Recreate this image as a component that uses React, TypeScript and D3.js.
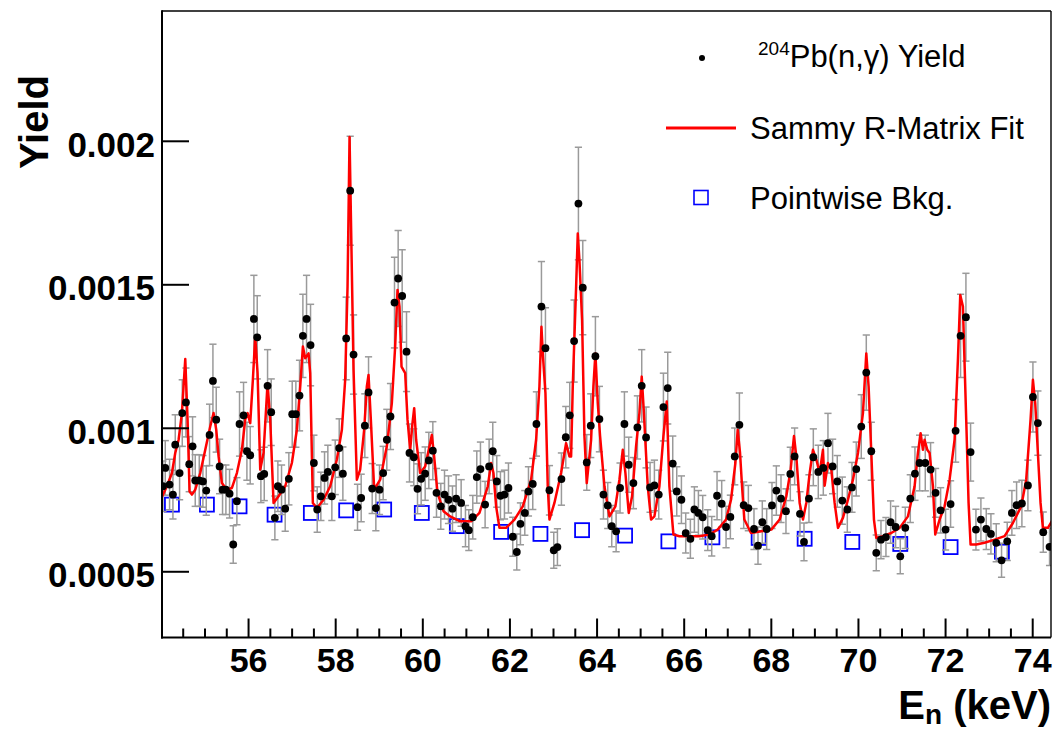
import React from "react";
import * as d3 from "d3";

// ---------- data ----------
const energy = [
  54.034, 54.088, 54.187, 54.264, 54.317, 54.417, 54.478, 54.562, 54.638, 54.715,
  54.776, 54.868, 54.952, 55.029, 55.105, 55.182, 55.258, 55.335, 55.403, 55.48,
  55.564, 55.648, 55.732, 55.793, 55.885, 55.962, 56.038, 56.122, 56.199, 56.283,
  56.36, 56.436, 56.52, 56.604, 56.673, 56.757, 56.841, 56.925, 57.002, 57.086,
  57.17, 57.247, 57.331, 57.423, 57.499, 57.576, 57.66, 57.744, 57.82, 57.912,
  57.989, 58.081, 58.165, 58.241, 58.333, 58.41, 58.501, 58.585, 58.669, 58.754,
  58.838, 58.922, 59.006, 59.09, 59.174, 59.258, 59.35, 59.434, 59.526, 59.626,
  59.694, 59.793, 59.878, 59.962, 60.054, 60.138, 60.23, 60.314, 60.413, 60.498,
  60.59, 60.681, 60.765,
  60.88, 60.979, 61.056, 61.147, 61.239, 61.323, 61.43, 61.522, 61.606, 61.698,
  61.782, 61.874, 61.966, 62.065, 62.157, 62.241, 62.341, 62.425, 62.524, 62.608,
  62.723, 62.815, 62.907, 63.006, 63.09, 63.182, 63.282, 63.373, 63.473, 63.572,
  63.672, 63.763, 63.855, 63.962, 64.054, 64.146, 64.245, 64.337, 64.437, 64.528,
  64.628, 64.727, 64.834, 64.926, 65.025, 65.125, 65.217, 65.316, 65.416, 65.523,
  65.622, 65.737, 65.829, 65.936, 66.035, 66.142, 66.234, 66.326, 66.425, 66.54,
  66.632, 66.754, 66.861, 66.961, 67.06, 67.16, 67.267, 67.366, 67.473,
  67.602, 67.694, 67.793, 67.893, 68.015, 68.115, 68.222, 68.336, 68.436, 68.535,
  68.658, 68.75, 68.864, 68.964, 69.078, 69.193, 69.3, 69.407, 69.514, 69.629,
  69.744, 69.851, 69.95, 70.065, 70.18, 70.295, 70.409, 70.517, 70.631, 70.738,
  70.853, 70.96, 71.075, 71.19, 71.297, 71.404, 71.534, 71.656, 71.771, 71.886,
  72.0, 72.115, 72.23, 72.344, 72.467, 72.574, 72.697, 72.811, 72.934, 73.041,
  73.163, 73.285, 73.415, 73.522, 73.63, 73.752, 73.89, 74.005, 74.119, 74.242,
  74.387,
];

const yieldVals = [
  7.98e-4, 8.62e-4, 8.04e-4, 7.69e-4, 9.43e-4, 8.44e-4, 10.53e-4, 10.9e-4, 8.75e-4, 9.37e-4,
  8.18e-4, 8.18e-4, 8.15e-4, 7.83e-4, 9.77e-4, 11.65e-4, 10.3e-4, 8.67e-4, 7.86e-4, 7.86e-4,
  7.72e-4, 5.95e-4, 7.46e-4, 10.15e-4, 10.45e-4, 9.2e-4, 9.06e-4, 13.81e-4, 13.17e-4, 8.33e-4,
  8.41e-4, 11.48e-4, 10.56e-4, 6.88e-4, 7.98e-4, 7.86e-4, 7.2e-4, 8.24e-4, 10.49e-4, 10.49e-4,
  11.14e-4, 13.22e-4, 13.81e-4, 12.9e-4, 8.79e-4, 7.17e-4, 7.63e-4, 8.27e-4, 8.48e-4, 7.63e-4,
  8.64e-4, 9.31e-4, 8.42e-4, 13.13e-4, 18.28e-4, 12.57e-4, 7.25e-4, 7.57e-4, 10.09e-4, 11.25e-4,
  7.9e-4, 7.22e-4, 7.86e-4, 8.44e-4, 9.6e-4, 10.41e-4, 14.38e-4, 15.22e-4, 14.61e-4, 12.67e-4,
  9.14e-4, 8.99e-4, 7.89e-4, 8.24e-4, 8.42e-4, 8.88e-4, 9.22e-4, 7.75e-4, 7.28e-4, 7.69e-4,
  7.51e-4, 7.2e-4, 7.55e-4,
  7.4e-4, 6.59e-4, 6.45e-4, 6.9e-4, 8.3e-4, 8.58e-4, 7.34e-4, 8.67e-4, 9.2e-4, 8.15e-4,
  7.65e-4, 7.69e-4, 7.92e-4, 6.22e-4, 5.69e-4, 6.67e-4, 7.05e-4, 7.8e-4, 8.06e-4, 10.15e-4,
  14.24e-4, 12.79e-4, 7.84e-4, 5.75e-4, 5.86e-4, 8.23e-4, 9.69e-4, 10.45e-4, 13.04e-4, 17.83e-4,
  14.9e-4, 8.81e-4, 10.09e-4, 12.51e-4, 10.32e-4, 7.69e-4, 7.31e-4, 6.59e-4, 6.41e-4, 7.92e-4,
  10.15e-4, 8.73e-4, 8.09e-4, 10.03e-4, 11.48e-4, 9.68e-4, 7.94e-4, 8.01e-4, 7.69e-4, 10.74e-4,
  11.4e-4, 8.77e-4, 7.8e-4, 7.51e-4, 6.35e-4, 6.15e-4, 7.17e-4, 7.05e-4, 6.9e-4, 6.45e-4,
  6.24e-4, 7.65e-4, 7.37e-4, 6.56e-4, 6.91e-4, 9.02e-4, 10.12e-4, 7.32e-4, 7.22e-4,
  6.49e-4, 5.91e-4, 6.73e-4, 6.49e-4, 7.31e-4, 7.83e-4, 7.55e-4, 7.11e-4, 8.41e-4, 9.02e-4,
  7.02e-4, 6.04e-4, 7.55e-4, 8.99e-4, 8.48e-4, 8.62e-4, 9.48e-4, 8.67e-4, 8.15e-4, 7.48e-4,
  7.17e-4, 7.94e-4, 8.58e-4, 10.06e-4, 11.94e-4, 9.2e-4, 5.66e-4, 6.12e-4, 6.21e-4, 6.73e-4,
  6.56e-4, 5.54e-4, 6.53e-4, 7.55e-4, 8.42e-4, 8.79e-4, 8.79e-4, 8.56e-4, 7.75e-4, 7.14e-4,
  6.47e-4, 7.36e-4, 9.91e-4, 13.22e-4, 13.87e-4, 9.17e-4, 6.47e-4, 6.82e-4, 6.49e-4, 6.32e-4,
  6.01e-4, 5.4e-4, 6.06e-4, 7.05e-4, 7.32e-4, 7.38e-4, 8.01e-4, 11.09e-4, 10.18e-4, 6.38e-4,
  5.87e-4,
];

const yieldErr = [
  8.8e-5, 9.5e-5, 8.8e-5, 8.5e-5, 10.4e-5, 9.3e-5, 11.6e-5, 12.0e-5, 9.6e-5, 10.3e-5,
  9.0e-5, 9.0e-5, 9.0e-5, 8.6e-5, 10.7e-5, 12.8e-5, 11.3e-5, 9.5e-5, 8.6e-5, 8.6e-5,
  8.5e-5, 6.5e-5, 8.2e-5, 11.2e-5, 11.5e-5, 10.1e-5, 10.0e-5, 15.2e-5, 14.5e-5, 9.2e-5,
  9.3e-5, 12.6e-5, 11.6e-5, 7.6e-5, 8.8e-5, 8.6e-5, 7.9e-5, 9.1e-5, 11.5e-5, 11.5e-5,
  12.3e-5, 14.5e-5, 15.2e-5, 14.2e-5, 9.7e-5, 7.9e-5, 8.4e-5, 9.1e-5, 9.3e-5, 8.4e-5,
  9.5e-5, 10.2e-5, 9.3e-5, 14.4e-5, 19.0e-5, 13.8e-5, 8.0e-5, 8.3e-5, 11.1e-5, 12.4e-5,
  8.7e-5, 7.9e-5, 8.6e-5, 9.3e-5, 10.6e-5, 11.5e-5, 15.8e-5, 16.7e-5, 16.1e-5, 13.9e-5,
  10.1e-5, 9.9e-5, 8.7e-5, 9.1e-5, 9.3e-5, 9.8e-5, 10.1e-5, 8.5e-5, 8.0e-5, 8.5e-5,
  8.3e-5, 7.9e-5, 8.3e-5,
  8.1e-5, 7.2e-5, 7.1e-5, 7.6e-5, 9.1e-5, 9.4e-5, 8.1e-5, 9.5e-5, 10.1e-5, 9.0e-5,
  8.4e-5, 8.5e-5, 8.7e-5, 6.8e-5, 6.3e-5, 7.3e-5, 7.8e-5, 8.6e-5, 8.9e-5, 11.2e-5,
  15.7e-5, 14.1e-5, 8.6e-5, 6.3e-5, 6.4e-5, 9.1e-5, 10.7e-5, 11.5e-5, 14.3e-5, 19.6e-5,
  16.4e-5, 9.7e-5, 11.1e-5, 13.8e-5, 11.4e-5, 8.5e-5, 8.0e-5, 7.2e-5, 7.1e-5, 8.7e-5,
  11.2e-5, 9.6e-5, 8.9e-5, 11.0e-5, 12.6e-5, 10.6e-5, 8.7e-5, 8.8e-5, 8.5e-5, 11.8e-5,
  12.5e-5, 9.6e-5, 8.6e-5, 8.3e-5, 7.0e-5, 6.8e-5, 7.9e-5, 7.8e-5, 7.6e-5, 7.1e-5,
  6.9e-5, 8.4e-5, 8.1e-5, 7.2e-5, 7.6e-5, 9.9e-5, 11.1e-5, 8.1e-5, 7.9e-5,
  7.1e-5, 6.5e-5, 7.4e-5, 7.1e-5, 8.0e-5, 8.6e-5, 8.3e-5, 7.8e-5, 9.3e-5, 9.9e-5,
  7.7e-5, 6.6e-5, 8.3e-5, 9.9e-5, 9.3e-5, 9.5e-5, 10.4e-5, 9.5e-5, 9.0e-5, 8.2e-5,
  7.9e-5, 8.7e-5, 9.4e-5, 11.1e-5, 13.1e-5, 10.1e-5, 6.2e-5, 6.7e-5, 6.8e-5, 7.4e-5,
  7.2e-5, 6.1e-5, 7.2e-5, 8.3e-5, 9.3e-5, 9.7e-5, 9.7e-5, 9.4e-5, 8.5e-5, 7.9e-5,
  7.1e-5, 8.1e-5, 10.9e-5, 14.5e-5, 15.3e-5, 10.1e-5, 7.1e-5, 7.5e-5, 7.1e-5, 7.0e-5,
  6.6e-5, 5.9e-5, 6.7e-5, 7.8e-5, 8.1e-5, 8.1e-5, 8.8e-5, 12.2e-5, 11.2e-5, 7.0e-5,
  6.5e-5,
];

const fitEnergy = [
  54.0, 54.126, 54.241, 54.317, 54.394, 54.47, 54.547, 54.6, 54.646, 54.7,
  54.776, 54.891, 55.006, 55.12, 55.197, 55.258, 55.312, 55.388, 55.503, 55.618,
  55.732, 55.847, 55.923, 55.977, 56.038, 56.099, 56.153, 56.207, 56.268, 56.344,
  56.436, 56.497, 56.574, 56.688, 56.841, 56.994, 57.109, 57.186, 57.247, 57.3,
  57.377, 57.415, 57.476, 57.568, 57.721, 57.874, 58.027, 58.142, 58.218, 58.272,
  58.318, 58.364, 58.41, 58.486, 58.562, 58.654, 58.715, 58.754, 58.807, 58.884,
  59.021, 59.174, 59.289, 59.365, 59.419, 59.465, 59.511, 59.595, 59.649, 59.71,
  59.763, 59.802, 59.847, 59.939, 60.054, 60.153, 60.207, 60.26, 60.337, 60.475,
  60.628, 60.857, 61.109, 61.3, 61.492, 61.568, 61.622, 61.683, 61.759, 61.912,
  62.104, 62.295, 62.486, 62.601, 62.677, 62.723, 62.754, 62.815, 62.868, 62.907,
  63.021, 63.174, 63.289, 63.366, 63.404, 63.442, 63.519, 63.557, 63.595, 63.656,
  63.71, 63.763, 63.863, 63.916, 63.962, 64.016, 64.069, 64.169, 64.284, 64.421,
  64.513, 64.59, 64.651, 64.727, 64.804, 64.895, 64.972, 65.025, 65.071, 65.163,
  65.24, 65.316, 65.431, 65.523, 65.599, 65.66, 65.752, 65.89, 66.119, 66.349,
  66.578, 66.769, 66.961, 67.075, 67.175, 67.228, 67.282, 67.328, 67.381, 67.534,
  67.77, 68.0, 68.191, 68.344, 68.444, 68.52, 68.574, 68.65, 68.727, 68.803,
  68.88, 68.956, 69.033, 69.109, 69.185, 69.224, 69.3, 69.377, 69.453, 69.53,
  69.644, 69.759, 69.874, 69.989, 70.103, 70.18, 70.233, 70.295, 70.356, 70.409,
  70.562, 70.754, 70.945, 71.136, 71.289, 71.365, 71.427, 71.48, 71.519, 71.58,
  71.633, 71.71, 71.763, 71.863, 71.977, 72.092, 72.207, 72.283, 72.337, 72.398,
  72.474, 72.528, 72.574, 72.704, 72.895, 73.125, 73.354, 73.545, 73.737, 73.851,
  73.951, 74.005, 74.058, 74.119, 74.18, 74.234, 74.349, 74.463,
];

const fitYield = [
  7.57e-4, 7.98e-4, 8.44e-4, 9.14e-4, 9.6e-4, 10.53e-4, 12.41e-4, 10.3e-4, 7.8e-4, 7.69e-4,
  7.86e-4, 8.44e-4, 9.25e-4, 10.06e-4, 10.53e-4, 9.95e-4, 9.02e-4, 8.09e-4, 7.86e-4, 7.92e-4,
  8.44e-4, 9.25e-4, 10.3e-4, 10.53e-4, 10.18e-4, 11.69e-4, 13.19e-4, 11.92e-4, 8.56e-4, 9.14e-4,
  11.57e-4, 10.3e-4, 7.4e-4, 7.63e-4, 7.98e-4, 8.79e-4, 9.95e-4, 11.46e-4, 12.85e-4, 12.44e-4,
  12.61e-4, 11.92e-4, 7.4e-4, 7.22e-4, 7.51e-4, 7.98e-4, 8.91e-4, 9.95e-4, 11.69e-4, 14.93e-4,
  20.15e-4, 16.09e-4, 12.04e-4, 8.21e-4, 8.56e-4, 9.95e-4, 11.46e-4, 11.86e-4, 10.3e-4, 7.86e-4,
  8.21e-4, 9.37e-4, 10.88e-4, 12.85e-4, 14.82e-4, 14.24e-4, 12.15e-4, 11.92e-4, 10.3e-4, 9.25e-4,
  10.18e-4, 10.7e-4, 9.6e-4, 8.44e-4, 8.67e-4, 9.37e-4, 9.77e-4, 9.02e-4, 7.75e-4, 7.11e-4,
  6.93e-4, 6.76e-4, 6.76e-4, 7.05e-4, 7.98e-4, 8.79e-4, 8.44e-4, 7.28e-4, 6.53e-4, 6.53e-4,
  6.82e-4, 7.28e-4, 8.21e-4, 9.6e-4, 11.46e-4, 13.54e-4, 12.61e-4, 11.22e-4, 7.98e-4, 6.82e-4,
  7.4e-4, 8.44e-4, 9.48e-4, 9.02e-4, 9.02e-4, 11.46e-4, 14.93e-4, 16.79e-4, 15.86e-4, 13.77e-4,
  9.73e-4, 8.09e-4, 9.6e-4, 11.46e-4, 12.61e-4, 10.88e-4, 9.73e-4, 7.98e-4, 6.93e-4, 7.28e-4,
  8.21e-4, 9.25e-4, 8.44e-4, 7.05e-4, 7.63e-4, 9.37e-4, 10.53e-4, 11.8e-4, 10.64e-4, 7.98e-4,
  6.82e-4, 6.93e-4, 7.98e-4, 9.73e-4, 10.93e-4, 7.98e-4, 6.3e-4, 6.24e-4, 6.24e-4, 6.24e-4,
  6.3e-4, 6.47e-4, 6.82e-4, 7.51e-4, 8.79e-4, 9.95e-4, 9.14e-4, 7.98e-4, 6.82e-4, 6.35e-4,
  6.41e-4, 6.47e-4, 6.82e-4, 7.63e-4, 8.56e-4, 9.73e-4, 9.02e-4, 7.4e-4, 6.82e-4, 7.4e-4,
  8.44e-4, 9.25e-4, 8.91e-4, 8.44e-4, 9.25e-4, 8.0e-4, 8.79e-4, 8.56e-4, 7.4e-4, 6.53e-4,
  6.88e-4, 7.51e-4, 8.21e-4, 9.14e-4, 10.53e-4, 12.61e-4, 11.46e-4, 9.14e-4, 6.82e-4, 6.18e-4,
  6.24e-4, 6.35e-4, 6.53e-4, 6.93e-4, 7.98e-4, 9.14e-4, 9.83e-4, 9.25e-4, 9.6e-4, 9.25e-4,
  9.14e-4, 7.98e-4, 6.3e-4, 6.82e-4, 7.28e-4, 8.21e-4, 9.6e-4, 12.38e-4, 14.64e-4, 14.24e-4,
  10.3e-4, 7.4e-4, 5.95e-4, 5.95e-4, 6.01e-4, 6.12e-4, 6.24e-4, 6.7e-4, 7.28e-4, 8.21e-4,
  10.3e-4, 11.69e-4, 10.88e-4, 9.14e-4, 7.4e-4, 6.53e-4, 6.53e-4, 6.82e-4,
];

const bkgEnergy = [
  54.241, 55.044, 55.793, 56.597, 57.43, 58.241, 59.113, 59.977, 60.781, 61.798,
  62.7, 63.656, 64.643, 65.637, 66.647, 67.709, 68.765, 69.859, 70.96, 72.115, 73.293,
];
const bkgYield = [
  7.34e-4, 7.34e-4, 7.28e-4, 6.99e-4, 7.05e-4, 7.14e-4, 7.17e-4, 7.05e-4, 6.59e-4, 6.39e-4,
  6.32e-4, 6.45e-4, 6.26e-4, 6.06e-4, 6.2e-4, 6.18e-4, 6.15e-4, 6.04e-4, 5.97e-4, 5.86e-4, 5.7e-4,
];

const xTickValues = [56, 58, 60, 62, 64, 66, 68, 70, 72, 74];
const yTickValues = [0.0005, 0.001, 0.0015, 0.002];
const yTickLabels = ["0.0005", "0.001", "0.0015", "0.002"];
const legendLabels = ["Pb(n,\u03b3) Yield", "Sammy R-Matrix Fit", "Pointwise Bkg."];

// ---------- layout ----------
const WIDTH = 1054;
const HEIGHT = 734;
const FRAME = { left: 162, right: 1051, top: 11, bottom: 637.5 };
const FONT = "'Liberation Sans', Arial, Helvetica, sans-serif";

export default function App() {
  const x = d3.scaleLinear().domain([54.013, 74.42]).range([FRAME.left, FRAME.right]);
  const y = d3.scaleLinear().domain([0.000271, 0.002454]).range([FRAME.bottom, FRAME.top]);

  const fitPath =
    d3
      .line<number>()
      .x((_, i) => x(fitEnergy[i]))
      .y((d) => y(d))(fitYield) || "";

  const minorTicks = d3
    .range(54.5, 74.5, 0.5)
    .filter((v) => !xTickValues.includes(v) && v > 54.013 && v < 74.42);

  const n = Math.min(energy.length, yieldVals.length, yieldErr.length);
  const pts = d3.range(n).map((i) => ({ e: energy[i], v: yieldVals[i], s: yieldErr[i] }));

  const capHalf = 3.6;
  const errColor = "#9a9a9a";

  return (
    <svg
      width={WIDTH}
      height={HEIGHT}
      style={{ position: "absolute", left: 0, top: 0, background: "#fff" }}
      fontFamily={FONT}
    >
      <defs>
        <clipPath id="plotClip">
          <rect
            x={FRAME.left}
            y={FRAME.top}
            width={FRAME.right - FRAME.left}
            height={FRAME.bottom - FRAME.top}
          />
        </clipPath>
      </defs>
      <rect x={0} y={0} width={WIDTH} height={HEIGHT} fill="#fff" />

      <g clipPath="url(#plotClip)">
        {/* background squares */}
        {bkgEnergy.map((e, i) => (
          <rect
            key={"b" + i}
            x={x(e) - 7}
            y={y(bkgYield[i]) - 7}
            width={14}
            height={14}
            fill="none"
            stroke="#0000ff"
            strokeWidth={1.8}
          />
        ))}
        {/* error bars */}
        {pts.map((p, i) => {
          const cx = x(p.e);
          const y1 = y(p.v + p.s);
          const y0 = y(p.v - p.s);
          return (
            <g key={"e" + i} stroke={errColor} strokeWidth={1.5}>
              <line x1={cx} x2={cx} y1={y1} y2={y0} />
              <line x1={cx - capHalf} x2={cx + capHalf} y1={y1} y2={y1} />
              <line x1={cx - capHalf} x2={cx + capHalf} y1={y0} y2={y0} />
            </g>
          );
        })}
        {/* fit curve */}
        <path d={fitPath} fill="none" stroke="#ff0000" strokeWidth={2.5} strokeLinejoin="round" />
        {/* data points */}
        {pts.map((p, i) => (
          <circle key={"p" + i} cx={x(p.e)} cy={y(p.v)} r={3.9} fill="#000" />
        ))}
      </g>

      {/* frame */}
      <g stroke="#000" fill="none">
        <line x1={FRAME.left} x2={FRAME.right} y1={FRAME.top} y2={FRAME.top} strokeWidth={1.6} />
        <line x1={FRAME.right} x2={FRAME.right} y1={FRAME.top} y2={FRAME.bottom} strokeWidth={1.4} />
        <line x1={FRAME.left} x2={FRAME.left} y1={FRAME.top - 0.8} y2={FRAME.bottom + 1} strokeWidth={2} />
        <line x1={FRAME.left - 1} x2={FRAME.right} y1={FRAME.bottom} y2={FRAME.bottom} strokeWidth={2} />
      </g>

      {/* y axis ticks + labels */}
      {yTickValues.map((v, i) => (
        <g key={"yt" + i}>
          <line x1={FRAME.left} x2={FRAME.left + 27} y1={y(v)} y2={y(v)} stroke="#000" strokeWidth={2} />
          <text
            x={155}
            y={y(v) + 15.5}
            textAnchor="end"
            fontSize={35}
            fontWeight="bold"
            fill="#000"
          >
            {yTickLabels[i]}
          </text>
        </g>
      ))}

      {/* x axis ticks + labels */}
      {minorTicks.map((v, i) => (
        <line
          key={"xm" + i}
          x1={x(v)}
          x2={x(v)}
          y1={FRAME.bottom}
          y2={FRAME.bottom - 9}
          stroke="#000"
          strokeWidth={2}
        />
      ))}
      {xTickValues.map((v, i) => (
        <g key={"xt" + i}>
          <line x1={x(v)} x2={x(v)} y1={FRAME.bottom} y2={FRAME.bottom - 19} stroke="#000" strokeWidth={2} />
          <text x={x(v)} y={672} textAnchor="middle" fontSize={34} fontWeight="bold" fill="#000">
            {String(v)}
          </text>
        </g>
      ))}

      {/* axis titles */}
      <text
        transform="translate(48,75) rotate(-90)"
        textAnchor="end"
        fontSize={40}
        fontWeight="bold"
        fill="#000"
      >
        Yield
      </text>
      <text x={1051} y={719} textAnchor="end" fontSize={40} fontWeight="bold" fill="#000">
        E
        <tspan fontSize={28} dy={5}>
          n
        </tspan>
        <tspan dy={-5}> (keV)</tspan>
      </text>

      {/* legend */}
      <circle cx={702} cy={58} r={3} fill="#000" />
      <text x={758} y={67} fontSize={31} fill="#000">
        <tspan fontSize={19} dy={-12}>
          204
        </tspan>
        <tspan dy={12}>{legendLabels[0]}</tspan>
      </text>
      <line x1={666} x2={736} y1={128} y2={128} stroke="#ff0000" strokeWidth={3} />
      <text x={750} y={139} fontSize={31} fill="#000">
        {legendLabels[1]}
      </text>
      <rect x={694} y={190.5} width={14} height={14} fill="none" stroke="#0000ff" strokeWidth={1.6} />
      <text x={750} y={209} fontSize={31} fill="#000">
        {legendLabels[2]}
      </text>
    </svg>
  );
}
